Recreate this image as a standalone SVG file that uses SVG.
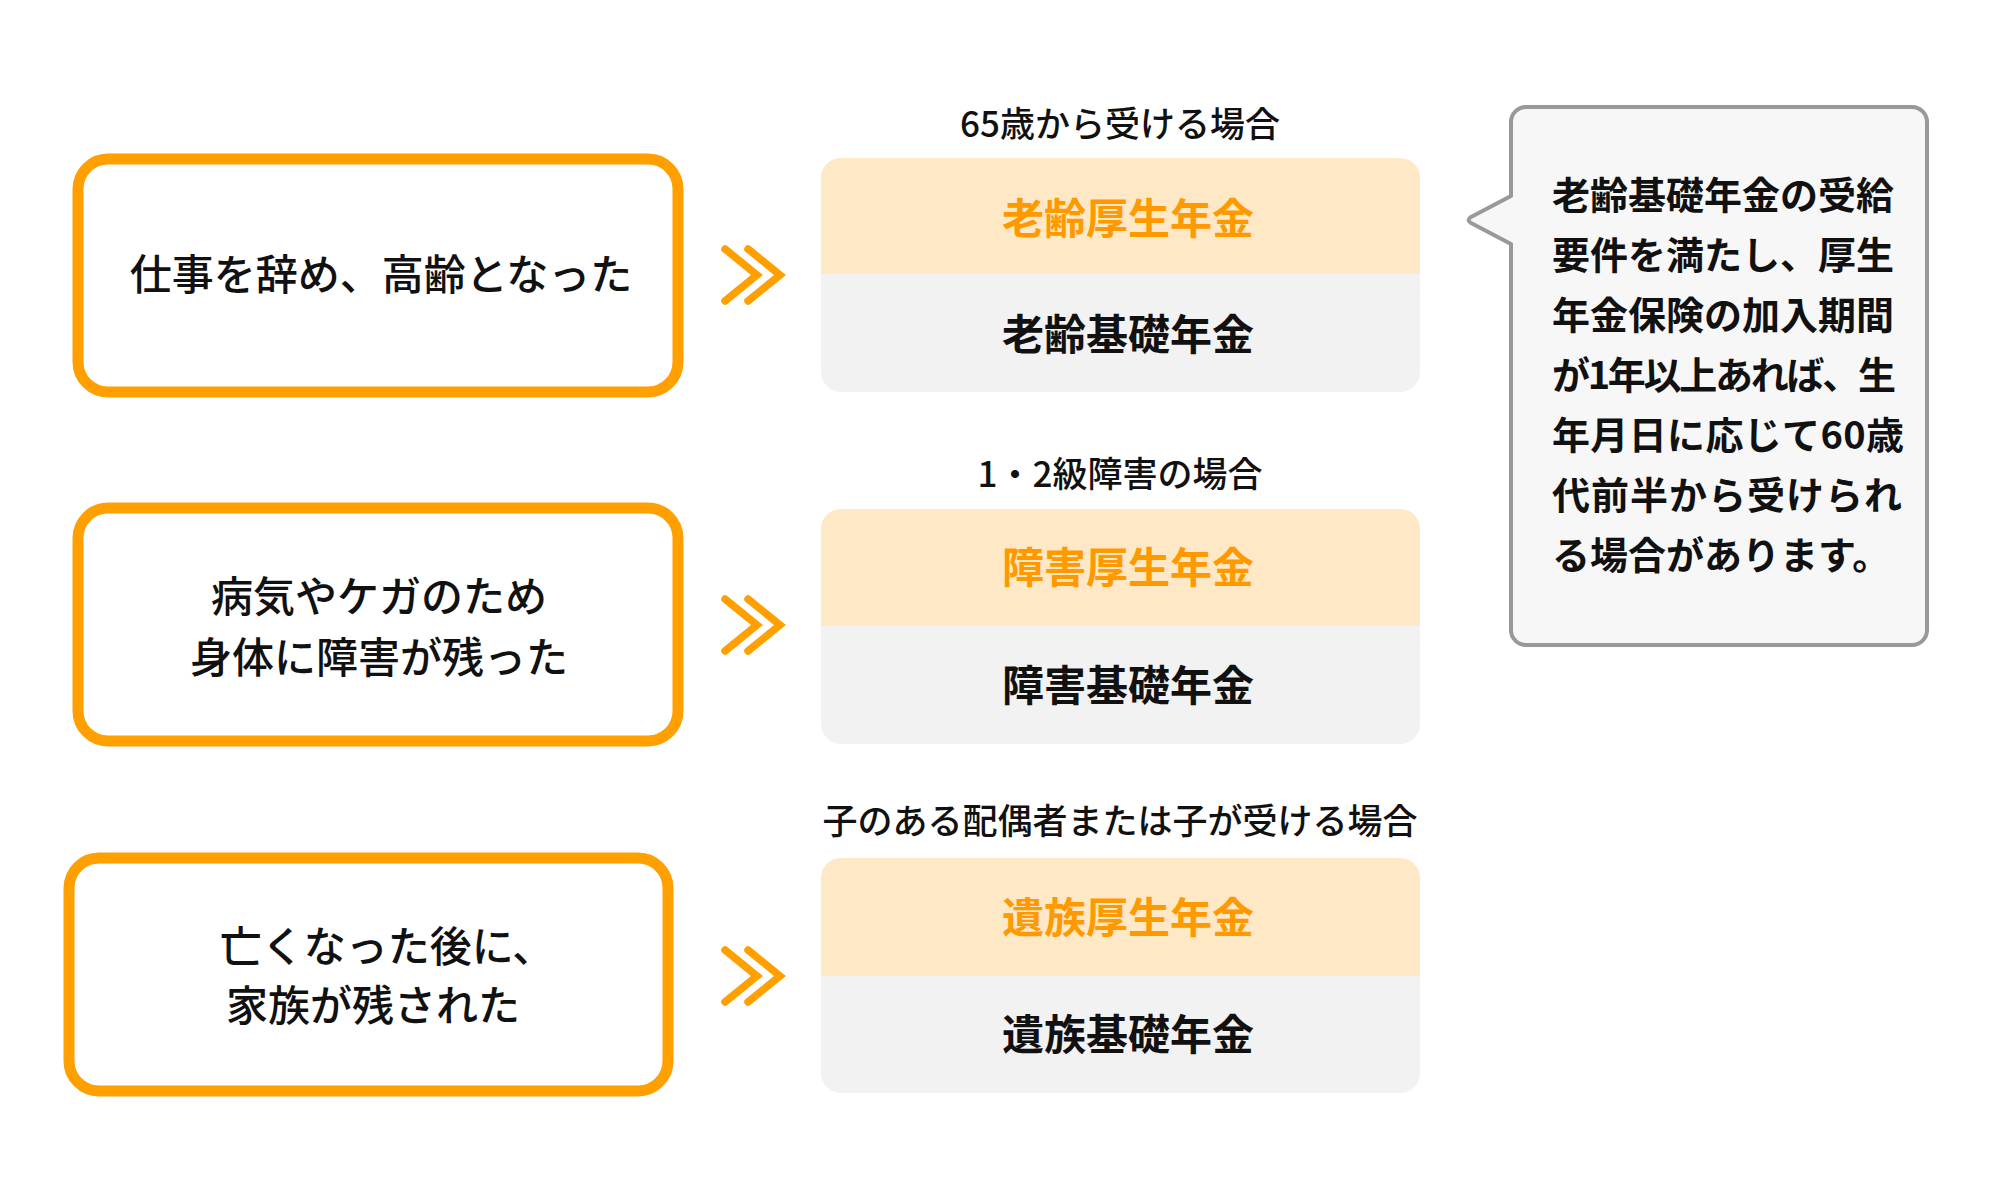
<svg xmlns="http://www.w3.org/2000/svg" width="2000" height="1200" viewBox="0 0 2000 1200">
<style>
text{font-family:"Noto Sans CJK JP","Noto Sans",sans-serif;fill:#111}
.box{fill:#fff;stroke:#FFA000;stroke-width:11}
.bt{font-size:42px;font-weight:500;text-anchor:middle}
.top{fill:#FFE8C6}
.bot{fill:#F2F2F2}
.ot{font-size:42px;font-weight:700;text-anchor:middle;fill:#FF9900}
.kt{font-size:42px;font-weight:700;text-anchor:middle}
.lb{font-size:35px;font-weight:500;text-anchor:middle}
.chev{fill:none;stroke:#FFA000;stroke-width:7.5;stroke-linecap:round;stroke-linejoin:miter}
.ct{font-size:38px;font-weight:700}
</style>
<rect width="2000" height="1200" fill="#fff"/>
<g id="case1">
<rect class="box" x="78" y="159" width="600" height="233" rx="30"/>
<text class="bt" x="381" y="290">仕事を辞め、高齢となった</text>
</g>
<g id="case2">
<rect class="box" x="78" y="508" width="600" height="233" rx="30"/>
<text class="bt" x="379" y="612">病気やケガのため</text>
<text class="bt" x="379" y="673">身体に障害が残った</text>
</g>
<g id="case3">
<rect class="box" x="69" y="858" width="599" height="233" rx="30"/>
<text class="bt" x="387" y="962">亡くなった後に、</text>
<text class="bt" x="373" y="1021">家族が残された</text>
</g>
<g id="connectors">
<path class="chev" d="M725,249 L757,275 L725,301 M748,249 L780,275 L748,301"/>
<path class="chev" d="M725,599 L757,625 L725,651 M748,599 L780,625 L748,651"/>
<path class="chev" d="M725,950 L757,976 L725,1002 M748,950 L780,976 L748,1002"/>
</g>
<g id="pension1">
<text class="lb" x="1120" y="137">65歳から受ける場合</text>
<path class="top" d="M821,274 V178 a20,20 0 0 1 20,-20 H1400 a20,20 0 0 1 20,20 V274 Z"/>
<path class="bot" d="M821,274 H1420 V372 a20,20 0 0 1 -20,20 H841 a20,20 0 0 1 -20,-20 Z"/>
<text class="ot" x="1128" y="234">老齢厚生年金</text>
<text class="kt" x="1128" y="350">老齢基礎年金</text>
</g>
<g id="pension2">
<text class="lb" x="1120" y="487">1・2級障害の場合</text>
<path class="top" d="M821,626 V529 a20,20 0 0 1 20,-20 H1400 a20,20 0 0 1 20,20 V626 Z"/>
<path class="bot" d="M821,626 H1420 V724 a20,20 0 0 1 -20,20 H841 a20,20 0 0 1 -20,-20 Z"/>
<text class="ot" x="1128" y="583">障害厚生年金</text>
<text class="kt" x="1128" y="701">障害基礎年金</text>
</g>
<g id="pension3">
<text class="lb" x="1120" y="834">子のある配偶者または子が受ける場合</text>
<path class="top" d="M821,976 V878 a20,20 0 0 1 20,-20 H1400 a20,20 0 0 1 20,20 V976 Z"/>
<path class="bot" d="M821,976 H1420 V1073 a20,20 0 0 1 -20,20 H841 a20,20 0 0 1 -20,-20 Z"/>
<text class="ot" x="1128" y="933">遺族厚生年金</text>
<text class="kt" x="1128" y="1050">遺族基礎年金</text>
</g>
<g id="note">
<path d="M1526,107 H1912 a15,15 0 0 1 15,15 V630 a15,15 0 0 1 -15,15 H1526 a15,15 0 0 1 -15,-15 V244 L1471,223 Q1466,220 1471,217 L1511,196 V122 a15,15 0 0 1 15,-15 Z" fill="#F7F7F7" stroke="#999" stroke-width="4" stroke-linejoin="round"/>
<text class="ct" x="1552" y="209">老齢基礎年金の受給</text>
<text class="ct" x="1552" y="269">要件を満たし、厚生</text>
<text class="ct" x="1552" y="329">年金保険の加入期間</text>
<text class="ct" x="1552" y="389" textLength="344" lengthAdjust="spacing">が1年以上あれば、生</text>
<text class="ct" x="1552" y="449" textLength="352" lengthAdjust="spacing">年月日に応じて60歳</text>
<text class="ct" x="1552" y="509" textLength="350" lengthAdjust="spacing">代前半から受けられ</text>
<text class="ct" x="1552" y="569">る場合があります。</text>
</g>
</svg>
